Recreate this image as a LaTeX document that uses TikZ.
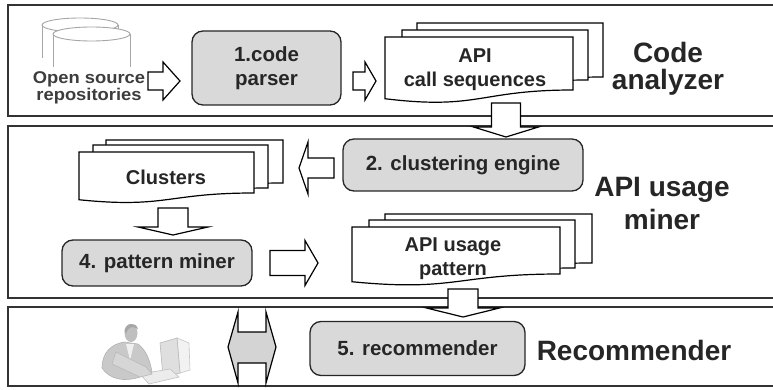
\documentclass[tikz,border=0pt]{standalone}
\usepackage{fontspec}
\setmainfont{Liberation Sans}
\newfontfamily\widefont[FakeStretch=1.08]{Liberation Sans}
\definecolor{boxfill}{HTML}{D9D9D9}
\definecolor{ink}{HTML}{262626}
\definecolor{panelline}{HTML}{333333}
\definecolor{repogray}{HTML}{A6A6A6}
\definecolor{repotext}{HTML}{3D3D3D}
\definecolor{dblfill}{HTML}{D4D4D4}
\newcommand{\harrow}[6]{% x0, xh, x1, yc, shaft half, head half
  \draw[blockarrow] (#1,{#4-#5}) -- (#2,{#4-#5}) -- (#2,{#4-#6}) -- (#3,#4) -- (#2,{#4+#6}) -- (#2,{#4+#5}) -- (#1,{#4+#5}) -- cycle;}
\newcommand{\varrow}[6]{% xc, y0, yh, y1, shaft half, head half
  \draw[blockarrow] ({#1-#5},#2) -- ({#1+#5},#2) -- ({#1+#5},#3) -- ({#1+#6},#3) -- (#1,#4) -- ({#1-#6},#3) -- ({#1-#5},#3) -- cycle;}
\newcommand{\docpage}[4]{% left, top, right, right-bottom
  \pgfmathsetmacro\docH{(#4-#2)/0.802}
  \draw[docline] (#1,#2) -- (#3,#2) -- (#3,#4) .. controls ({(#1+#3)/2},#4) and ({(#1+#3)/2},{#2+1.107*\docH}) .. (#1,{#2+0.934*\docH}) -- cycle;}
\begin{document}
\begin{tikzpicture}[x=1pt,y=-1pt,
  panel/.style={draw=panelline, line width=1.8pt},
  proc/.style={draw=ink, fill=boxfill, rounded corners=11pt, line width=1.3pt, inner sep=0pt,
    text=ink, align=center, font=\fontsize{20.5}{23.5}\selectfont\bfseries},
  docline/.style={draw=black, fill=white, line width=1.2pt},
  doctext/.style={text=ink, align=center, inner sep=0pt, font=\fontsize{20}{24}\selectfont\bfseries},
  blockarrow/.style={draw=black, fill=white, line width=1.2pt, line join=miter},
  layerlbl/.style={text=ink, align=center, inner sep=0pt}]
\useasboundingbox (0,0) rectangle (773,390);
\clip (0,0) rectangle (773,390);
% panels
\draw[panel] (790,5) -- (8,5) -- (8,116) -- (790,116);
\draw[panel] (790,126) -- (8,126) -- (8,298) -- (790,298);
\draw[panel] (790,307) -- (8,307) -- (8,386) -- (790,386);
% repositories icon
\begin{scope}[draw=repogray, line width=0.9pt]
  \fill[white] (42,25) -- (42,58) -- (118,58) -- (118,25) -- cycle;
  \draw (42,58) -- (42,25) (118,25) -- (118,45);
  \draw (80,25) ellipse [x radius=38, y radius=7];
  \fill[white] (53,34) -- (53,67) -- (130,67) -- (130,34) -- cycle;
  \draw (53,67) -- (53,34) (130,34) -- (130,67);
  \draw[fill=white] (91.5,34) ellipse [x radius=38.5, y radius=7];
\end{scope}
\node[layerlbl, text=repotext, font=\fontsize{17}{15}\selectfont\widefont\bfseries] (repo) at (89,88) {Open source\\repositories};
% code parser
\node[proc, minimum width=149pt, minimum height=74pt] (parser) at (266.5,68) {1.code\\parser};
% call sequences documents
\docpage{417}{23}{603}{77}
\docpage{402}{30}{588}{80}
\docpage{385}{37}{573}{90}
\node[doctext] (callseq) at (475,70) {API\\call sequences};
\node[layerlbl, font=\fontsize{28}{27}\selectfont\bfseries] (codeanalyzer) at (668,69) {Code\\analyzer};
% arrows of the first layer
\harrow{148}{163}{180}{81}{9}{19}
\harrow{353}{365}{376}{81}{9}{19}
% clustering engine
\node[proc, minimum width=240pt, minimum height=52pt] (cluster) at (463,165) {2. clustering engine};
\varrow{506}{103}{127}{137}{14.5}{32.5}
% clusters documents
\docpage{106}{140}{283}{183}
\docpage{93}{145}{268}{188}
\docpage{79}{152}{254}{193}
\node[doctext] (clusters) at (166,177.5) {Clusters};
\harrow{334}{308}{299}{168}{10}{26}
\varrow{173}{208}{227}{235}{15}{35}
% pattern miner
\node[proc, minimum width=190pt, minimum height=46pt] (miner) at (157,263) {4. pattern miner};
\harrow{270}{305}{318}{263}{12.5}{22.5}
% usage pattern documents
\docpage{385}{214}{592}{263}
\docpage{369}{220}{575}{268}
\docpage{352}{227}{560}{274}
\node[doctext] (pattern) at (453,258.5) {API usage\\pattern};
\node[layerlbl, font=\fontsize{28}{33}\selectfont\bfseries] (usageminer) at (662,204) {API usage\\miner};
\varrow{463}{289}{308}{317}{15}{36.5}
% recommender
\node[proc, minimum width=215pt, minimum height=54pt] (recommender) at (417.5,348.5) {5. recommender};
\node[layerlbl, font=\fontsize{28}{33}\selectfont\bfseries] (recolbl) at (634,350) {Recommender};
\draw[blockarrow, fill=dblfill] (228,347) -- (238,312) -- (238,332) -- (266,332) -- (266,312) -- (276,347)
  -- (266,383) -- (266,363) -- (238,363) -- (238,383) -- cycle;
% user at computer
\begin{scope}[line width=0.6pt]
  \draw[fill=gray!10, draw=gray!45] (177,338) -- (189,343) -- (190,370) -- (180,373) -- cycle;
  \draw[fill=gray!25, draw=gray!55] (160,343) -- (177,338) -- (180,373) -- (163,377) -- cycle;
  \draw[fill=gray!15, draw=gray!50] (140,374) -- (170,369) -- (179,377) -- (149,384) -- cycle;
  \draw[fill=gray!42, draw=gray!60] (102,368) .. controls (102,352) and (112,344) .. (124,342)
    -- (138,344) .. controls (146,350) and (150,360) .. (152,372) -- (140,377)
    .. controls (125,382) and (110,380) .. (102,368) -- cycle;
  \fill[gray!12] (126,344) -- (134,344) -- (130,360) -- cycle;
  \draw[fill=gray!32, draw=gray!55] (116,352) -- (146,367) -- (152,374) -- (140,377) -- (112,364) -- cycle;
  \fill[gray!50] (131,333) ellipse [x radius=6.5, y radius=9];
  \fill[gray!70] (124.5,331) .. controls (125,323) and (136,321) .. (138,329) -- (136,328) .. controls (132,326) and (128,327) .. (126,334) -- cycle;
\end{scope}
\end{tikzpicture}
\end{document}
